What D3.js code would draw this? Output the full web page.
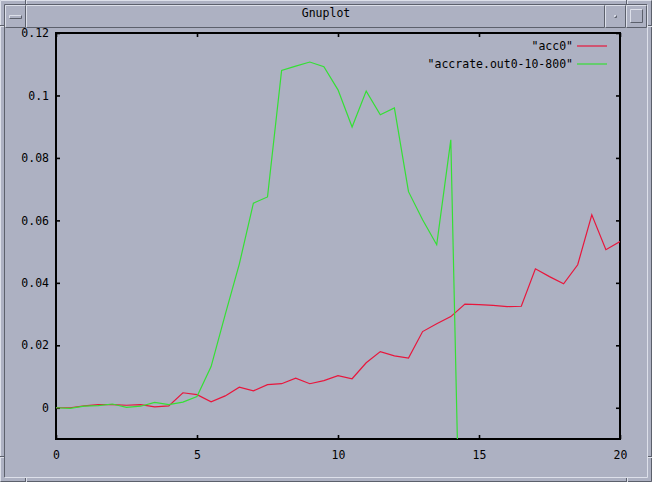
<!DOCTYPE html>
<html>
<head>
<meta charset="utf-8">
<script src="https://cdn.jsdelivr.net/npm/d3@7"></script>
<style>
  html, body { margin: 0; padding: 0; background: #adb1c2; }
  svg { display: block; }
  text { font-family: "DejaVu Sans Mono", monospace; font-size: 11.5px; fill: #000; }
</style>
</head>
<body>
<svg id="chart" width="652" height="482"></svg>
<script>
// ---------- data ----------
const windowTitle = "Gnuplot";
const seriesNames = ["\"acc0\"", "\"accrate.out0-10-800\""];
const seriesColors = ["#e8163c", "#34e034"];

const acc0X = [0, 0.5, 1, 1.5, 2, 2.5, 3, 3.5, 4, 4.5, 5, 5.5, 6, 6.5, 7, 7.5, 8, 8.5, 9, 9.5,
               10, 10.5, 11, 11.5, 12, 12.5, 13, 13.5, 14, 14.5, 15, 15.5, 16, 16.5, 17, 17.5, 18, 18.5, 19, 19.5, 20];
const acc0Y = [0, 0, 0.0006, 0.001, 0.001, 0.0008, 0.001, 0.0003, 0.0006, 0.0048, 0.0042, 0.0019, 0.0038, 0.0066,
               0.0054, 0.0074, 0.0077, 0.0095, 0.0077, 0.0087, 0.0103, 0.0093, 0.0144, 0.018, 0.0166, 0.0159,
               0.0244, 0.0269, 0.0292, 0.0332, 0.033, 0.0328, 0.0324, 0.0325, 0.0445, 0.042, 0.0397, 0.0458,
               0.0618, 0.0506, 0.0532];

const accrateX = [0, 0.5, 1, 1.5, 2, 2.5, 3, 3.5, 4, 4.5, 5, 5.5, 6, 6.5, 7, 7.5, 8, 8.5, 9, 9.5,
                  10, 10.5, 11, 11.5, 12, 12.5, 13, 13.5, 14, 14.5];
const accrateY = [0, -0.0002, 0.0005, 0.0007, 0.0012, 0.0001, 0.0005, 0.0017, 0.001, 0.0018, 0.0036, 0.0132,
                  0.0298, 0.046, 0.0655, 0.0675, 0.108, 0.1094, 0.1107, 0.1092, 0.1018, 0.0899, 0.1014, 0.0938,
                  0.096, 0.0692, 0.0602, 0.0522, 0.0858, -0.12];

const xTicks = [0, 5, 10, 15, 20];
const xTickLabels = ["0", "5", "10", "15", "20"];
const yTicks = [0, 0.02, 0.04, 0.06, 0.08, 0.1, 0.12];
const yTickLabels = ["0", "0.02", "0.04", "0.06", "0.08", "0.1", "0.12"];

// ---------- layout ----------
const W = 652, H = 482;
const plot = { left: 56, right: 620, top: 33, bottom: 439 };

const svg = d3.select("#chart");
const light = "#dde0ea", dark = "#5c606c", bg = "#adb1c2";

// window frame
svg.append("rect").attr("x", 0).attr("y", 0).attr("width", W).attr("height", H).attr("fill", bg);
const frame = svg.append("g").attr("fill", "none").attr("stroke-width", 1);
function ln(x1, y1, x2, y2, c) {
  frame.append("line").attr("x1", x1).attr("y1", y1).attr("x2", x2).attr("y2", y2).attr("stroke", c);
}
// outer bevel
ln(0.5, 0.5, W - 0.5, 0.5, light); ln(0.5, 0.5, 0.5, H - 0.5, light);
ln(W - 0.5, 0.5, W - 0.5, H - 0.5, dark); ln(0.5, H - 0.5, W - 0.5, H - 0.5, dark);
// inner inset
ln(4.5, 4.5, W - 4.5, 4.5, dark); ln(4.5, 4.5, 4.5, H - 4.5, dark);
ln(W - 4.5, 4.5, W - 4.5, H - 4.5, light); ln(4.5, H - 4.5, W - 4.5, H - 4.5, light);
// corner notches
[[25.5, 0, 25.5, 4], [W - 25.5, 0, W - 25.5, 4], [25.5, H - 4, 25.5, H], [W - 25.5, H - 4, W - 25.5, H]]
  .forEach(d => { ln(d[0], d[1], d[2], d[3], dark); ln(d[0] + 1, d[1], d[2] + 1, d[3], light); });
[[0, 25.5, 4, 25.5], [W - 4, 25.5, W, 25.5], [0, H - 25.5, 4, H - 25.5], [W - 4, H - 25.5, W, H - 25.5]]
  .forEach(d => { ln(d[0], d[1], d[2], d[3], dark); ln(d[0], d[1] + 1, d[2], d[3] + 1, light); });

// title bar
const tb = { x: 5, y: 5, w: W - 10, h: 23 };
function bevelBox(x, y, w, h) {
  ln(x + 0.5, y + 0.5, x + w - 0.5, y + 0.5, light);
  ln(x + 0.5, y + 0.5, x + 0.5, y + h - 0.5, light);
  ln(x + w - 0.5, y + 0.5, x + w - 0.5, y + h - 0.5, dark);
  ln(x + 0.5, y + h - 0.5, x + w - 0.5, y + h - 0.5, dark);
}
bevelBox(tb.x, tb.y, 21, tb.h);
bevelBox(tb.x + 21, tb.y, W - 10 - 21 - 42, tb.h);
bevelBox(W - 5 - 42, tb.y, 21, tb.h);
bevelBox(W - 5 - 21, tb.y, 21, tb.h);
// left menu button icon
bevelBox(9, 15, 13, 4);
// minimize dot
bevelBox(W - 5 - 42 + 9, 15, 3, 3);
// maximize square
bevelBox(W - 5 - 21 + 4, 9, 13, 14);
svg.append("text").attr("x", W / 2).attr("y", 17).attr("text-anchor", "middle").text(windowTitle);

// ---------- scales ----------
const x = d3.scaleLinear().domain([0, 20]).range([plot.left, plot.right]);
const y = d3.scaleLinear().domain([-0.01, 0.12]).range([plot.bottom, plot.top]);

// clip
svg.append("clipPath").attr("id", "clip").append("rect")
  .attr("x", plot.left).attr("y", plot.top)
  .attr("width", plot.right - plot.left).attr("height", plot.bottom - plot.top);

// ---------- axes ----------
function styleAxis(g) {
  g.select(".domain").remove();
  g.selectAll(".tick line").attr("stroke", "#000").attr("stroke-width", 1.6);
  g.selectAll(".tick text").style("font-family", "\"DejaVu Sans Mono\", monospace").style("font-size", "11.5px").attr("fill", "#000");
}
svg.append("g").attr("transform", `translate(${plot.left},0)`)
  .call(d3.axisLeft(y).tickValues(yTicks).tickSize(-4).tickPadding(7)
    .tickFormat((d, i) => yTickLabels[i]))
  .call(styleAxis);
svg.append("g").attr("transform", `translate(${plot.right},0)`)
  .call(d3.axisRight(y).tickValues(yTicks).tickSize(-4).tickFormat(() => ""))
  .call(styleAxis);
svg.append("g").attr("transform", `translate(0,${plot.bottom})`)
  .call(d3.axisBottom(x).tickValues(xTicks).tickSize(-4).tickPadding(12)
    .tickFormat((d, i) => xTickLabels[i]))
  .call(styleAxis);
svg.append("g").attr("transform", `translate(0,${plot.top})`)
  .call(d3.axisTop(x).tickValues(xTicks).tickSize(-4).tickFormat(() => ""))
  .call(styleAxis);

// border
svg.append("rect").attr("x", plot.left).attr("y", plot.top)
  .attr("width", plot.right - plot.left).attr("height", plot.bottom - plot.top)
  .attr("fill", "none").attr("stroke", "#000").attr("stroke-width", 2);

// ---------- lines ----------
const line = d3.line().x(d => x(d[0])).y(d => y(d[1]));
const series = [
  d3.zip(acc0X, acc0Y),
  d3.zip(accrateX, accrateY)
];
const lines = svg.append("g").attr("clip-path", "url(#clip)");
series.forEach((s, i) => {
  lines.append("path").datum(s).attr("d", line)
    .attr("fill", "none").attr("stroke", seriesColors[i]).attr("stroke-width", 1.2)
    .attr("stroke-linejoin", "miter");
});

// ---------- legend ----------
const legendY = [46, 64];
seriesNames.forEach((name, i) => {
  svg.append("text").attr("x", 573).attr("y", legendY[i] + 4)
    .attr("text-anchor", "end").text(name);
  svg.append("line").attr("x1", 577).attr("x2", 607)
    .attr("y1", legendY[i]).attr("y2", legendY[i])
    .attr("stroke", seriesColors[i]).attr("stroke-width", 1.2);
});
</script>
</body>
</html>
